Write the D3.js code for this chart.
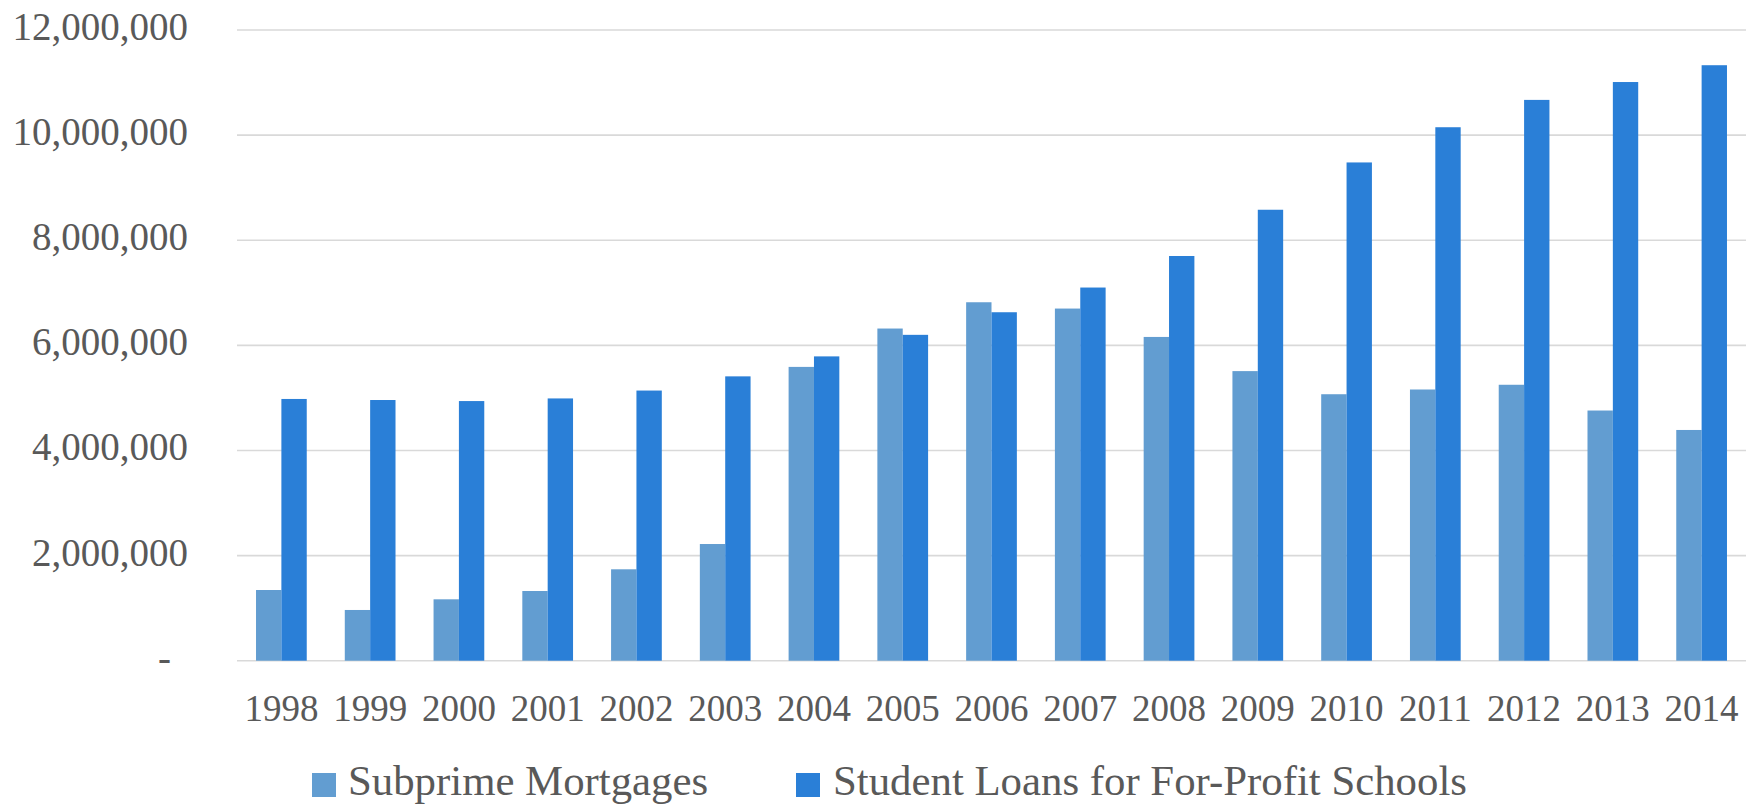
<!DOCTYPE html>
<html>
<head>
<meta charset="utf-8">
<script src="https://cdn.jsdelivr.net/npm/d3@7/dist/d3.min.js"></script>
<style>
  html, body { margin: 0; padding: 0; background: #ffffff; }
  svg { display: block; }
  text { font-family: "Liberation Serif", "Times New Roman", serif; fill: #595959; }
</style>
</head>
<body>
<svg id="chart" width="1753" height="807"></svg>
<script>
// Annual counts, 1998–2014
const years = ["1998","1999","2000","2001","2002","2003","2004","2005","2006",
               "2007","2008","2009","2010","2011","2012","2013","2014"];
const subprimeMortgages = [1345000, 965000, 1168000, 1326000, 1739000, 2220000, 5590000,
  6320000, 6820000, 6700000, 6160000, 5510000, 5070000, 5160000, 5250000, 4760000, 4390000];
const studentLoansForProfit = [4980000, 4960000, 4940000, 4990000, 5140000, 5410000, 5790000,
  6200000, 6630000, 7100000, 7700000, 8580000, 9480000, 10150000, 10670000, 11010000, 11330000];
const seriesNames = ["Subprime Mortgages", "Student Loans for For-Profit Schools"];
const seriesColors = ["#629DD1", "#2A7FD7"];
const yTickValues = [0, 2000000, 4000000, 6000000, 8000000, 10000000, 12000000];

const rows = years.map((y, i) => ({ year: y, values: [subprimeMortgages[i], studentLoansForProfit[i]] }));

const svg = d3.select("#chart");
const plot = { left: 237, right: 1746, top: 30, bottom: 660.7 };

// Category scale: each year gets two bars with a 150% gap between groups
const x0 = d3.scaleBand()
  .domain(years)
  .range([plot.left, plot.right])
  .paddingInner(1.5 / 3.5)
  .paddingOuter(0.75 / 3.5);
const x1 = d3.scaleBand()
  .domain([0, 1])
  .range([0, x0.bandwidth()]);
const y = d3.scaleLinear().domain([0, 12000000]).range([plot.bottom, plot.top]);

// Horizontal gridlines
svg.append("g")
  .selectAll("line")
  .data(yTickValues)
  .join("line")
  .attr("x1", plot.left)
  .attr("x2", plot.right)
  .attr("y1", d => y(d))
  .attr("y2", d => y(d))
  .attr("stroke", "#D9D9D9")
  .attr("stroke-width", 1.6);

// Y axis labels
const fmt = d3.format(",");
svg.append("g")
  .selectAll("text")
  .data(yTickValues)
  .join("text")
  .attr("x", d => d === 0 ? 171 : 188)
  .attr("y", d => y(d) + 10)
  .attr("text-anchor", "end")
  .attr("font-size", 39)
  .text(d => d === 0 ? "-" : fmt(d));

// Bars
const groups = svg.append("g")
  .selectAll("g")
  .data(rows)
  .join("g")
  .attr("transform", d => `translate(${x0(d.year)},0)`);
groups.selectAll("rect")
  .data(d => d.values.map((v, k) => ({ k, v })))
  .join("rect")
  .attr("x", d => x1(d.k))
  .attr("width", x1.bandwidth())
  .attr("y", d => y(d.v))
  .attr("height", d => y(0) - y(d.v))
  .attr("fill", d => seriesColors[d.k]);

// X axis labels
svg.append("g")
  .selectAll("text")
  .data(years)
  .join("text")
  .attr("x", d => x0(d) + x0.bandwidth() / 2)
  .attr("y", 721)
  .attr("text-anchor", "middle")
  .attr("font-size", 37)
  .text(d => d);

// Legend
const legendItems = [
  { name: seriesNames[0], color: seriesColors[0], sx: 312, tx: 348 },
  { name: seriesNames[1], color: seriesColors[1], sx: 796, tx: 833 }
];
const legend = svg.append("g");
legend.selectAll("rect")
  .data(legendItems)
  .join("rect")
  .attr("x", d => d.sx)
  .attr("y", 773)
  .attr("width", 24)
  .attr("height", 24)
  .attr("fill", d => d.color);
legend.selectAll("text")
  .data(legendItems)
  .join("text")
  .attr("x", d => d.tx)
  .attr("y", 795)
  .attr("font-size", 42.8)
  .text(d => d.name);
</script>
</body>
</html>
